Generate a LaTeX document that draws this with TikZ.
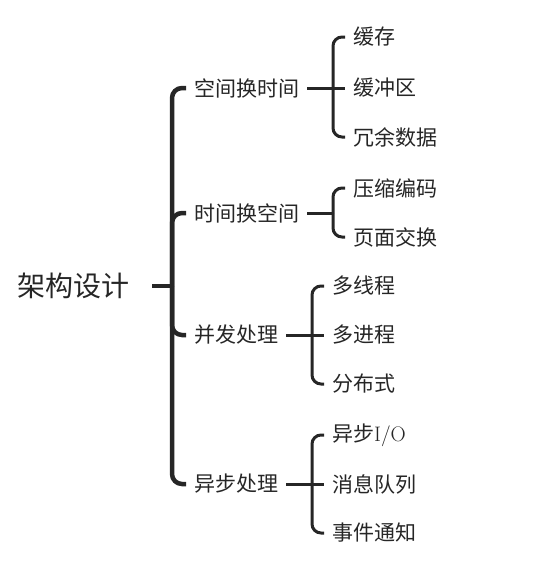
\documentclass[tikz,border=0pt]{standalone}
\usepackage{fontspec}
\newfontfamily\cjk{Noto Sans CJK SC}
\usetikzlibrary{positioning}

\begin{document}
\begin{tikzpicture}[
    x=1pt, y=-1pt,
    rootnode/.style={font=\cjk\fontsize{28}{32}\selectfont, text=black!85, inner sep=0pt, anchor=east},
    topic/.style={font=\cjk\fontsize{21}{25}\selectfont, text=black!85, anchor=west, inner xsep=8pt, inner ysep=0pt},
    trunk/.style={line width=4.5pt, draw=black!85, rounded corners=10pt},
    twig/.style={line width=3pt, draw=black!85, rounded corners=9pt}
]
\useasboundingbox (0,0) rectangle (554,566);

% root and main branches
\node[rootnode] (design) at (130,286) {架构设计};
\coordinate (hub) at (172,286);
\node[topic] (spacetime) at (186,88) {空间换时间};
\node[topic] (timespace) at (186,213) {时间换空间};
\node[topic] (concur) at (186,335) {并发处理};
\node[topic] (async) at (186,484) {异步处理};

\draw[trunk, shorten <=22pt] (design.east) -- (hub);
\draw[trunk] (hub) |- (spacetime.west);
\draw[trunk] (hub) |- (timespace.west);
\draw[trunk] (hub) |- (concur.west);
\draw[trunk] (hub) |- (async.west);

% space for time
\coordinate (j1) at (333,88);
\node[topic] (cache) at (345,37) {缓存};
\node[topic] (buffer) at (345,88) {缓冲区};
\node[topic] (redund) at (345,137) {冗余数据};
\draw[twig] (spacetime.east) -- (j1);
\draw[twig] (j1) |- (cache.west);
\draw[twig] (j1) -- (buffer.west);
\draw[twig] (j1) |- (redund.west);

% time for space
\coordinate (j2) at (333,213);
\node[topic] (compress) at (345,188) {压缩编码};
\node[topic] (swap) at (345,237) {页面交换};
\draw[twig] (timespace.east) -- (j2);
\draw[twig] (j2) |- (compress.west);
\draw[twig] (j2) |- (swap.west);

% concurrency
\coordinate (j3) at (312,335);
\node[topic] (thread) at (324,286) {多线程};
\node[topic] (process) at (324,335) {多进程};
\node[topic] (distrib) at (324,384) {分布式};
\draw[twig] (concur.east) -- (j3);
\draw[twig] (j3) |- (thread.west);
\draw[twig] (j3) -- (process.west);
\draw[twig] (j3) |- (distrib.west);

% asynchronous
\coordinate (j4) at (312,484);
\node[topic] (aio) at (324,435) {异步{\rmfamily I/O}};
\node[topic] (queue) at (324,484) {消息队列};
\node[topic] (notify) at (324,533) {事件通知};
\draw[twig] (async.east) -- (j4);
\draw[twig] (j4) |- (aio.west);
\draw[twig] (j4) -- (queue.west);
\draw[twig] (j4) |- (notify.west);
\end{tikzpicture}
\end{document}
